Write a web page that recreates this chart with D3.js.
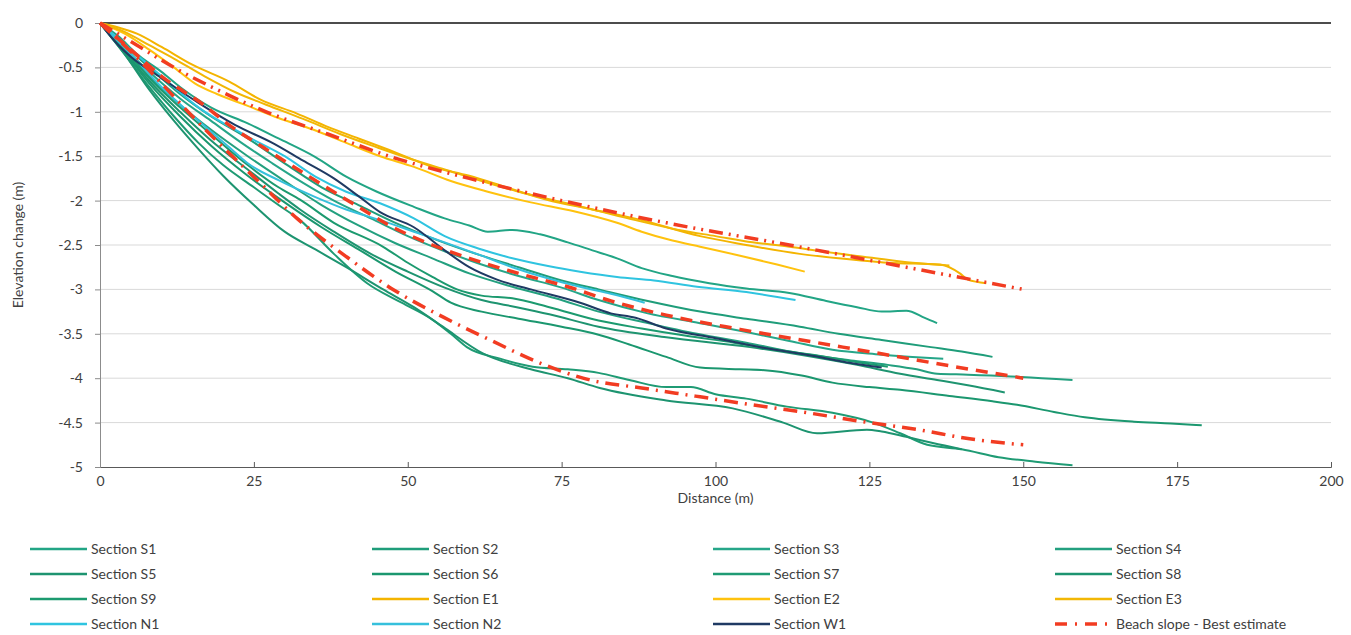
<!DOCTYPE html>
<html><head><meta charset="utf-8">
<script src="https://cdn.jsdelivr.net/npm/d3@7"></script>
<style>body{margin:0;background:#fff;} svg{display:block;}</style>
</head><body>
<svg id="c" width="1351" height="635"></svg>
<script>
// ---- Data (distance m, elevation change m) ----
const xTicks = [0,25,50,75,100,125,150,175,200];
const yTicks = [0,-0.5,-1,-1.5,-2,-2.5,-3,-3.5,-4,-4.5,-5];
const xTickLabels = ["0","25","50","75","100","125","150","175","200"];
const yTickLabels = ["0","-0.5","-1","-1.5","-2","-2.5","-3","-3.5","-4","-4.5","-5"];

const S1 = [[0,0],[3,-0.15],[6,-0.35],[10,-0.55],[13,-0.72],[18,-0.95],[24,-1.13],[29,-1.3],[35,-1.51],[40,-1.73],[45,-1.9],[51,-2.07],[56,-2.2],[60,-2.28],[63,-2.35],[67,-2.33],[71.5,-2.38],[76,-2.47],[80,-2.56],[84,-2.65],[88,-2.76],[93,-2.85],[99,-2.93],[105,-2.99],[112,-3.04],[118,-3.13],[123,-3.2],[127,-3.25],[131,-3.24],[134,-3.32],[136,-3.38]];
const S2 = [[0,0],[4,-0.25],[8,-0.5],[13,-0.8],[18,-1.05],[24,-1.3],[30,-1.58],[36,-1.85],[42,-2.05],[48,-2.25],[55,-2.45],[62,-2.62],[68,-2.75],[75,-2.9],[81,-3.0],[89,-3.13],[97.5,-3.25],[105,-3.33],[113.7,-3.42],[120,-3.5],[127,-3.57],[135,-3.65],[140,-3.7],[145,-3.76]];
const S3 = [[0,0],[4,-0.28],[8,-0.55],[13,-0.85],[18,-1.1],[23,-1.35],[28,-1.58],[33,-1.8],[38,-2.0],[44,-2.2],[50,-2.4],[56,-2.57],[62,-2.72],[68,-2.85],[75,-2.98],[81,-3.12],[89,-3.27],[97.5,-3.38],[105,-3.48],[112,-3.58],[119,-3.68],[126,-3.73],[132,-3.76],[137,-3.78]];
const S4 = [[0,0],[4,-0.3],[8,-0.6],[13,-0.92],[18,-1.2],[24,-1.5],[30,-1.78],[36,-2.05],[42,-2.28],[48,-2.48],[54,-2.65],[60,-2.82],[67,-2.97],[74,-3.1],[81,-3.25],[89,-3.38],[97,-3.5],[105,-3.6],[113.7,-3.72],[122,-3.8],[128,-3.85],[132.7,-3.9],[136,-3.95],[141,-3.96],[148,-3.98],[153,-4.0],[158,-4.02]];
const S5 = [[0,0],[4,-0.32],[8,-0.65],[13,-1.0],[18,-1.32],[24,-1.65],[29,-1.92],[32.5,-2.1],[38,-2.35],[44,-2.6],[50,-2.8],[56,-2.98],[62,-3.12],[67.7,-3.2],[73,-3.28],[81,-3.42],[92,-3.54],[105.6,-3.65],[115,-3.75],[123,-3.85],[130,-3.95],[136,-4.02],[141,-4.08],[147,-4.16]];
const S6 = [[0,0],[4,-0.33],[8,-0.68],[13,-1.05],[18,-1.38],[24,-1.72],[30,-2.02],[36,-2.3],[42,-2.55],[48,-2.8],[54,-3.02],[57,-3.15],[62,-3.25],[68,-3.33],[75,-3.42],[81,-3.51],[86,-3.62],[92,-3.76],[97.5,-3.88],[104,-3.9],[108,-3.91],[114,-3.97],[119,-4.05],[125,-4.1],[130,-4.13],[138,-4.2],[145,-4.26],[149,-4.3],[155,-4.38],[160,-4.44],[168,-4.49],[174,-4.51],[179,-4.53]];
const S7 = [[0,0],[4,-0.35],[8,-0.72],[12,-1.05],[16,-1.35],[20,-1.6],[25,-1.85],[29,-2.05],[32.5,-2.22],[38,-2.6],[43.4,-2.93],[49,-3.15],[54,-3.34],[57,-3.5],[59.6,-3.65],[65,-3.78],[70.3,-3.87],[76,-3.9],[81,-3.94],[86,-4.02],[92,-4.1],[96,-4.1],[100,-4.18],[105,-4.23],[111.6,-4.32],[119,-4.39],[125.6,-4.5],[130,-4.62],[134.4,-4.75],[140,-4.8],[146,-4.89],[152,-4.94],[158,-4.98]];
const S8 = [[0,0],[4,-0.35],[8,-0.75],[12,-1.1],[16,-1.42],[20,-1.72],[25,-2.05],[30,-2.35],[35,-2.55],[40,-2.75],[46,-3.0],[51,-3.2],[55.7,-3.42],[62.2,-3.72],[70,-3.9],[76,-4.0],[81.2,-4.11],[92,-4.25],[102.8,-4.34],[111,-4.5],[116.5,-4.62],[124.6,-4.58],[127,-4.6],[131,-4.66],[135.3,-4.73],[140,-4.8]];
const S9 = [[0,0],[4,-0.3],[8,-0.62],[13,-0.95],[18,-1.25],[24,-1.6],[29,-1.85],[32.5,-1.99],[38,-2.25],[46,-2.52],[50,-2.7],[54,-2.86],[58,-3.0],[62,-3.07],[67,-3.1],[73,-3.2],[81,-3.35],[88,-3.44],[95,-3.52],[103,-3.6],[110,-3.68],[117,-3.75],[123,-3.82],[128,-3.87]];
const E1 = [[0,0],[3,-0.05],[6,-0.12],[10,-0.27],[15,-0.47],[21,-0.66],[26,-0.86],[32,-1.02],[37,-1.17],[42,-1.3],[47,-1.43],[54,-1.62],[60,-1.72],[66,-1.85],[72.6,-1.99],[80,-2.1],[88,-2.22],[97.5,-2.4],[105,-2.5],[113.7,-2.6],[120,-2.65],[128,-2.7],[136.5,-2.72],[139.7,-2.82],[141,-2.89],[144,-2.93]];
const E2 = [[0,0],[4,-0.12],[8,-0.3],[12,-0.5],[15.4,-0.68],[19,-0.8],[23.9,-0.93],[29,-1.07],[34.6,-1.2],[40,-1.35],[45.5,-1.5],[51,-1.62],[57,-1.78],[63,-1.9],[70,-2.02],[77,-2.12],[84,-2.25],[88,-2.35],[93,-2.45],[97.5,-2.52],[104,-2.62],[110,-2.72],[114.5,-2.8]];
const E3 = [[0,0],[4,-0.1],[8,-0.25],[12,-0.4],[17,-0.6],[22,-0.78],[27,-0.92],[33,-1.08],[39,-1.25],[45,-1.4],[50,-1.52],[56,-1.65],[62,-1.78],[68,-1.9],[74,-2.0],[80,-2.1],[87,-2.22],[94,-2.33],[100,-2.4],[106,-2.47],[112,-2.52],[118,-2.58],[125,-2.64],[132,-2.7],[138,-2.73]];
const N1 = [[0,0],[5,-0.3],[10,-0.6],[16,-0.95],[24,-1.28],[30,-1.5],[35,-1.73],[40,-1.9],[45.5,-2.03],[51,-2.2],[56,-2.4],[62,-2.55],[67,-2.65],[73,-2.74],[78,-2.8],[84,-2.86],[90,-2.9],[97,-2.97],[105,-3.03],[113,-3.12]];
const N2 = [[0,0],[5,-0.35],[10,-0.72],[16,-1.1],[21,-1.4],[24,-1.58],[29,-1.77],[35,-1.96],[40,-2.1],[45.5,-2.22],[51,-2.35],[56,-2.47],[62,-2.62],[67,-2.75],[73,-2.88],[78,-2.97],[83,-3.05],[88.5,-3.15]];
const W1 = [[0,0],[3,-0.25],[5,-0.38],[10,-0.62],[16,-0.9],[22,-1.15],[28,-1.35],[33,-1.55],[38,-1.75],[42,-1.95],[45.5,-2.13],[51,-2.3],[56,-2.56],[60,-2.75],[64.5,-2.89],[70,-3.0],[78,-3.15],[83,-3.27],[87,-3.32],[92,-3.44],[100,-3.55],[108,-3.66],[116,-3.75],[122,-3.83],[127,-3.88]];
const BestUpper = [[0,0],[6,-0.25],[12,-0.5],[19,-0.75],[27,-1],[37,-1.25],[47,-1.5],[60,-1.75],[75,-2],[92,-2.25],[112,-2.5],[131,-2.75],[150,-3]];
const BestMiddle = [[0,0],[5,-0.3],[10,-0.6],[16.8,-0.92],[20.6,-1.13],[26.5,-1.4],[34,-1.73],[41,-2.03],[47.6,-2.3],[54,-2.5],[60,-2.65],[68,-2.82],[76,-2.97],[83,-3.13],[92,-3.29],[104,-3.45],[116.5,-3.6],[129,-3.75],[138,-3.86],[150,-4.0]];
const BestLower = [[0,0],[5,-0.32],[10,-0.68],[15,-1.05],[20,-1.4],[26,-1.8],[32,-2.2],[40,-2.63],[47.6,-3.0],[55.7,-3.31],[63.4,-3.57],[71.5,-3.83],[79.6,-4.02],[88,-4.11],[97.5,-4.21],[106,-4.3],[115,-4.39],[124,-4.49],[133,-4.58],[141,-4.68],[150,-4.75]];

const seriesNames = ["Section S1","Section S2","Section S3","Section S4","Section S5","Section S6","Section S7","Section S8","Section S9","Section E1","Section E2","Section E3","Section N1","Section N2","Section W1","Beach slope - Best estimate"];
const seriesData = [S1,S2,S3,S4,S5,S6,S7,S8,S9,E1,E2,E3,N1,N2,W1];
const bestData = [BestUpper, BestMiddle, BestLower];

// ---- styles ----
const colors = ["#22a585","#1f9d7a","#26a689","#23a07f","#1e9470","#1b976f","#1f9b74","#1d9470","#1c9a6f","#f4b400","#ffc20e","#f2b705","#2fc4e0","#36c0dc","#1f3a63"];
const redColor = "#f23c22";
const bestDash = ["14,6,2,6,2,6","12,8","14,7,2,7"];

const svg = d3.select("#c");
const margin = {left:100, right:20, top:23, bottom:168};
const x = d3.scaleLinear().domain([0,200]).range([100,1331]);
const y = d3.scaleLinear().domain([-5,0]).range([467,23]);

// gridlines
svg.append("g").selectAll("line").data(yTicks.filter(v=>v!==0 && v!==-5)).join("line")
  .attr("x1",x(0)).attr("x2",x(200)).attr("y1",d=>y(d)).attr("y2",d=>y(d))
  .attr("stroke","#d9d9d9").attr("stroke-width",1);

// bottom axis
const xAxis = d3.axisBottom(x).tickValues(xTicks).tickFormat((d,i)=>xTickLabels[i]).tickSize(-5).tickPadding(9);
const gx = svg.append("g").attr("transform",`translate(0,${y(-5)})`).call(xAxis);
gx.select(".domain").attr("stroke","#595959");
gx.selectAll(".tick line").attr("stroke","#595959");
gx.selectAll("text").attr("font-family","Lato, 'Open Sans', sans-serif").attr("font-size",14).attr("fill","#404040");

// left axis
const yAxis = d3.axisLeft(y).tickValues(yTicks).tickFormat((d,i)=>yTickLabels[i]).tickSize(5).tickPadding(12);
const gy = svg.append("g").attr("transform",`translate(${x(0)},0)`).call(yAxis);
gy.select(".domain").attr("stroke","#8c8c8c");
gy.selectAll(".tick line").attr("stroke","#8c8c8c");
gy.selectAll("text").attr("font-family","Lato, 'Open Sans', sans-serif").attr("font-size",14).attr("fill","#404040");

// top axis line at y=0
svg.append("line").attr("x1",x(0)).attr("x2",x(200)).attr("y1",y(0)).attr("y2",y(0))
  .attr("stroke","#111").attr("stroke-width",1.6);

// axis titles
svg.append("text").attr("x",(x(0)+x(200))/2).attr("y",503).attr("text-anchor","middle")
  .attr("font-family","Lato, 'Open Sans', sans-serif").attr("font-size",14).attr("fill","#404040").text("Distance (m)");
svg.append("text").attr("transform",`translate(23,${(y(0)+y(-5))/2}) rotate(-90)`).attr("text-anchor","middle")
  .attr("font-family","Lato, 'Open Sans', sans-serif").attr("font-size",14).attr("fill","#404040").text("Elevation change (m)");

// lines
const line = d3.line().x(d=>x(d[0])).y(d=>y(d[1])).curve(d3.curveMonotoneX);
const plot = svg.append("g");
seriesData.forEach((s,i)=>{
  plot.append("path").datum(s).attr("d",line).attr("fill","none")
    .attr("stroke",colors[i]).attr("stroke-width",2).attr("stroke-linejoin","round");
});
bestData.forEach((s,i)=>{
  plot.append("path").datum(s).attr("d",line).attr("fill","none")
    .attr("stroke",redColor).attr("stroke-width",3.5).attr("stroke-dasharray",bestDash[i]);
});

// legend
const colX = [30,372,713,1055];
const rowY = [549,574,599,624];
const lg = svg.append("g");
seriesNames.forEach((name,i)=>{
  const cx = colX[i%4], cy = rowY[Math.floor(i/4)];
  const isBest = i===15;
  lg.append("line").attr("x1",cx).attr("x2",cx+57).attr("y1",cy).attr("y2",cy)
    .attr("stroke", isBest ? redColor : colors[i])
    .attr("stroke-width", isBest ? 3.5 : 2.5)
    .attr("stroke-dasharray", isBest ? "12,8,2,8" : null);
  lg.append("text").attr("x",cx+61).attr("y",cy+5).attr("font-family","Lato, 'Open Sans', sans-serif")
    .attr("font-size",14).attr("fill","#404040").text(name);
});
</script>
</body></html>
